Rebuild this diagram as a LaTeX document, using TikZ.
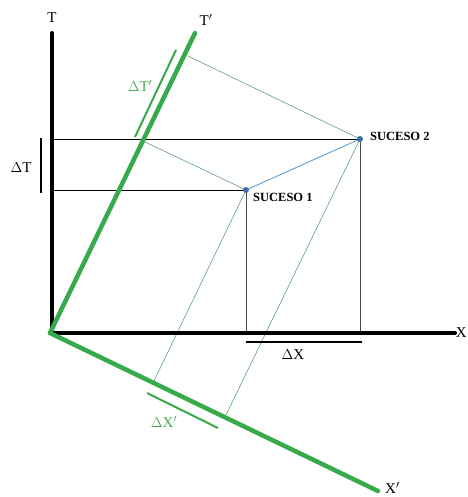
\documentclass[tikz,border=0pt]{standalone}
\usepackage{fontspec}
\setmainfont{Liberation Serif}
\definecolor{axgreen}{RGB}{55,170,75}
\definecolor{lblgreen}{RGB}{75,170,85}
\definecolor{projgreen}{RGB}{95,160,115}
\definecolor{evblue}{RGB}{60,110,170}
\definecolor{linkblue}{RGB}{80,150,200}
\tikzset{
  axis/.style={line width=4pt,black,line cap=round},
  gaxis/.style={line width=4.5pt,axgreen,line cap=round},
  helper/.style={line width=0.8pt,black},
  vhelper/.style={line width=0.8pt,black!70},
  proj/.style={line width=0.6pt,projgreen},
  bar/.style={line width=2.5pt,black},
  gbar/.style={line width=2pt,axgreen},
  lbl/.style={font=\fontsize{15}{17}\selectfont,inner sep=0pt},
  glbl/.style={font=\fontsize{15}{17}\selectfont,inner sep=0pt,text=lblgreen},
  evlbl/.style={font=\fontsize{12.5}{14}\selectfont\bfseries,inner sep=0pt,anchor=west},
  event/.style={circle,fill=evblue,inner sep=0pt,minimum size=6pt}
}
\begin{document}
\begin{tikzpicture}[x=1pt,y=-1pt]
\useasboundingbox (0,0) rectangle (467,497);
% key points
\coordinate (O) at (50,333);
\coordinate (Ttop) at (52,33);
\coordinate (Tbot) at (52,333);
\coordinate (Xend) at (455,333);
\coordinate (Tp) at (195,33);
\coordinate (Xp) at (378,491);
\coordinate (H2) at (52,139);
\coordinate (H1) at (52,190);
\coordinate (V1) at (246,333);
\coordinate (V2) at (360,333);
\coordinate (P2t) at (188,56);
\coordinate (P1t) at (143,141);
\coordinate (P1x) at (153,383);
\coordinate (P2x) at (225,417);
% helper lines
\draw[helper] (H2) -- (360,139);
\draw[helper] (H1) -- (246,190);
\draw[vhelper] (246,190) -- (V1);
\draw[vhelper] (360,139) -- (V2);
\draw[proj] (360,139) -- (P2t);
\draw[proj] (246,190) -- (P1t);
\draw[proj] (246,190) -- (P1x);
\draw[proj] (360,139) -- (P2x);
\draw[line width=0.8pt,linkblue] (246,190) -- (360,139);
% events
\node[event] (S1) at (246,190) {};
\node[event] (S2) at (360,139) {};
\node[evlbl] (L1) at (253,197) {SUCESO 1};
\node[evlbl] (L2) at (370,136) {SUCESO 2};
% axes
\draw[axis] (Tbot) -- (Ttop);
\draw[axis] (O) -- (Xend);
\draw[gaxis] (O) -- (Tp);
\draw[gaxis] (O) -- (Xp);
% axis labels
\node[lbl] (LT) at (52,18) {T};
\node[lbl] (LTp) at (206,20) {T$'$};
\node[lbl,anchor=east] (LX) at (467,333) {X};
\node[lbl,anchor=west] (LXp) at (385,488) {X$'$};
% interval bars
\coordinate (dTa) at (41,138);
\coordinate (dTb) at (41,193);
\draw[bar] (dTa) -- (dTb);
\node[lbl] (LdT) at (21,168) {$\Delta$T};
\coordinate (dXa) at (246,342);
\coordinate (dXb) at (362,342);
\draw[bar] (dXa) -- (dXb);
\node[lbl] (LdX) at (293,355) {$\Delta$X};
\coordinate (dTpa) at (135,137);
\coordinate (dTpb) at (176,50);
\draw[gbar] (dTpa) -- (dTpb);
\node[glbl] (LdTp) at (140,86) {$\Delta$T$'$};
\coordinate (dXpa) at (147,393);
\coordinate (dXpb) at (218,428);
\draw[gbar] (dXpa) -- (dXpb);
\node[glbl] (LdXp) at (164,422) {$\Delta$X$'$};
\end{tikzpicture}
\end{document}
